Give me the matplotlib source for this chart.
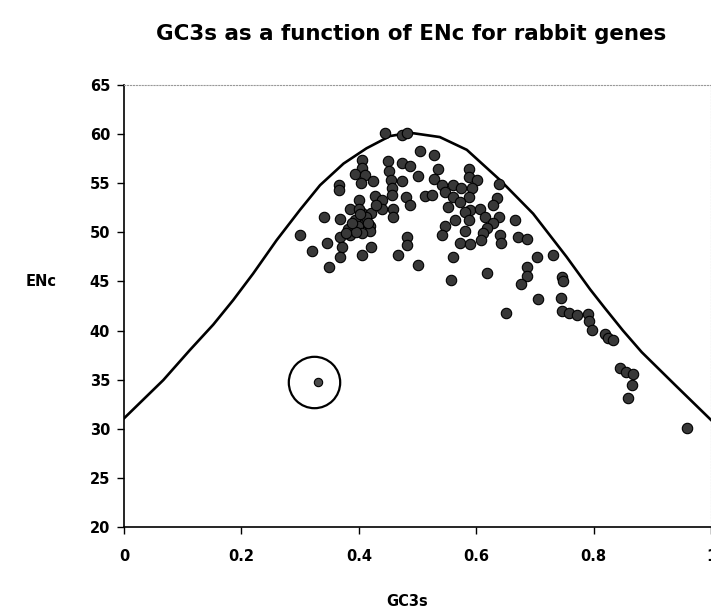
import matplotlib
matplotlib.use("Agg")
import matplotlib.pyplot as plt

plt.rcParams['font.family'] = ['DejaVu Sans']
plt.rcParams['font.weight'] = 'bold'

# ---------------- data ----------------
gc3s = [
    0.445, 0.473, 0.482, 0.504, 0.406, 0.449, 0.474, 0.487, 0.406, 0.394,
    0.410, 0.451, 0.501, 0.404, 0.425, 0.455, 0.473, 0.367, 0.367, 0.456,
    0.512, 0.428, 0.439, 0.480, 0.400, 0.456, 0.487, 0.385, 0.439, 0.459,
    0.459, 0.406, 0.421, 0.341, 0.368, 0.393, 0.410, 0.419, 0.399, 0.381,
    0.300, 0.368, 0.385, 0.419, 0.405, 0.482, 0.345, 0.482, 0.371, 0.320,
    0.421, 0.368, 0.406, 0.467, 0.501, 0.349, 0.412, 0.400, 0.395, 0.430,
    0.528, 0.535, 0.588, 0.528, 0.588, 0.602, 0.541, 0.560, 0.574, 0.592,
    0.638, 0.524, 0.547, 0.560, 0.588, 0.635, 0.552, 0.572, 0.629, 0.589,
    0.606, 0.581, 0.615, 0.639, 0.666, 0.564, 0.587, 0.629, 0.547, 0.618,
    0.541, 0.581, 0.612, 0.641, 0.672, 0.686, 0.572, 0.589, 0.609, 0.643,
    0.561, 0.703, 0.730, 0.686, 0.618, 0.557, 0.686, 0.677, 0.746, 0.748,
    0.706, 0.744, 0.651, 0.746, 0.758, 0.772, 0.791, 0.793, 0.797, 0.819,
    0.825, 0.833, 0.845, 0.856, 0.867, 0.865, 0.859, 0.959,
    0.388, 0.415, 0.402, 0.378,
]
enc = [
    60.1, 59.9, 60.1, 58.3, 57.4, 57.3, 57.1, 56.75, 56.5, 55.9,
    55.8, 56.2, 55.7, 55.0, 55.2, 55.3, 55.2, 54.8, 54.3, 54.5,
    53.7, 53.7, 53.3, 53.6, 53.3, 53.8, 52.8, 52.4, 52.4, 52.4,
    51.6, 52.0, 51.95, 51.6, 51.4, 51.25, 51.1, 50.6, 50.6, 50.3,
    49.7, 49.55, 49.7, 50.1, 49.9, 49.5, 48.9, 48.7, 48.5, 48.1,
    48.5, 47.5, 47.7, 47.7, 46.7, 46.5, 51.6, 52.4, 50.0, 52.8,
    57.9, 56.4, 56.4, 55.4, 55.6, 55.3, 54.8, 54.8, 54.5, 54.5,
    54.9, 53.8, 54.1, 53.6, 53.6, 53.5, 52.6, 53.1, 52.8, 52.3,
    52.4, 52.1, 51.6, 51.6, 51.3, 51.25, 51.3, 50.9, 50.6, 50.4,
    49.7, 50.1, 49.9, 49.7, 49.55, 49.3, 48.9, 48.8, 49.2, 48.95,
    47.45, 47.5, 47.7, 46.5, 45.9, 45.1, 45.55, 44.7, 45.5, 45.0,
    43.2, 43.3, 41.8, 42.0, 41.8, 41.6, 41.7, 41.0, 40.1, 39.6,
    39.2, 39.0, 36.15, 35.8, 35.6, 34.45, 33.1, 30.05,
    51.0, 50.9, 51.9, 49.9,
]

# the circled gene
outlier_gc3s = [0.330]
outlier_enc = [34.79]

# expected curve
curve_gc3s = [0.0, 0.067, 0.112, 0.152, 0.186, 0.220, 0.260, 0.300, 0.334, 0.374,
              0.413, 0.453, 0.487, 0.538, 0.584, 0.641, 0.697, 0.754, 0.794, 0.819,
              0.850, 0.882, 0.939, 1.0]
curve_enc = [31.06, 34.96, 38.0, 40.6, 43.1, 45.8, 49.2, 52.3, 54.8, 57.0,
             58.55, 59.8, 60.14, 59.7, 58.4, 55.3, 51.9, 47.5, 44.2, 42.3,
             40.0, 37.8, 34.45, 30.9]

x_ticks = [0, 0.2, 0.4, 0.6, 0.8, 1]
x_ticklabels = ["0", "0.2", "0.4", "0.6", "0.8", "1"]
y_ticks = [20, 25, 30, 35, 40, 45, 50, 55, 60, 65]

# ---------------- figure ----------------
fig = plt.figure(figsize=(7.11, 6.14), dpi=100)
ax = fig.add_axes([124 / 711, 87 / 614, 587 / 711, 442 / 614])

ax.plot(curve_gc3s, curve_enc, color="black", lw=1.9, zorder=2)
ax.plot(gc3s, enc, "o", ms=7.5, mfc="#383838", mec="black", mew=0.8, zorder=3)
ax.plot(outlier_gc3s, outlier_enc, "o", ms=6, mfc="#4a4a4a", mec="black", mew=0.8, zorder=3)
ax.plot([0.324], outlier_enc, "o", ms=37, mfc="none", mec="black", mew=1.6, zorder=3)

ax.set_xlim(0, 1)
ax.set_ylim(20, 65)
ax.set_xticks(x_ticks)
ax.set_xticklabels(x_ticklabels)
ax.set_yticks(y_ticks)
ax.tick_params(axis="both", direction="out", length=5, width=1, labelsize=10.5)
ax.tick_params(axis="x", pad=11)
ax.tick_params(axis="y", pad=5)

for side in ["top", "right"]:
    ax.spines[side].set_color("#999999")
    ax.spines[side].set_linestyle(":")
    ax.spines[side].set_linewidth(0.8)
for side in ["left", "bottom"]:
    ax.spines[side].set_linewidth(1.2)

fig.text(411 / 711, 1 - 34 / 614, "GC3s as a function of ENc for rabbit genes",
         ha="center", va="center", fontsize=15.4, fontweight="bold")
fig.text(41 / 711, 1 - 281 / 614, "ENc", ha="center", va="center", fontsize=10.5, fontweight="bold")
fig.text(407 / 711, 1 - 602 / 614, "GC3s", ha="center", va="center", fontsize=10.5, fontweight="bold")

fig.savefig("out.png", dpi=100)
